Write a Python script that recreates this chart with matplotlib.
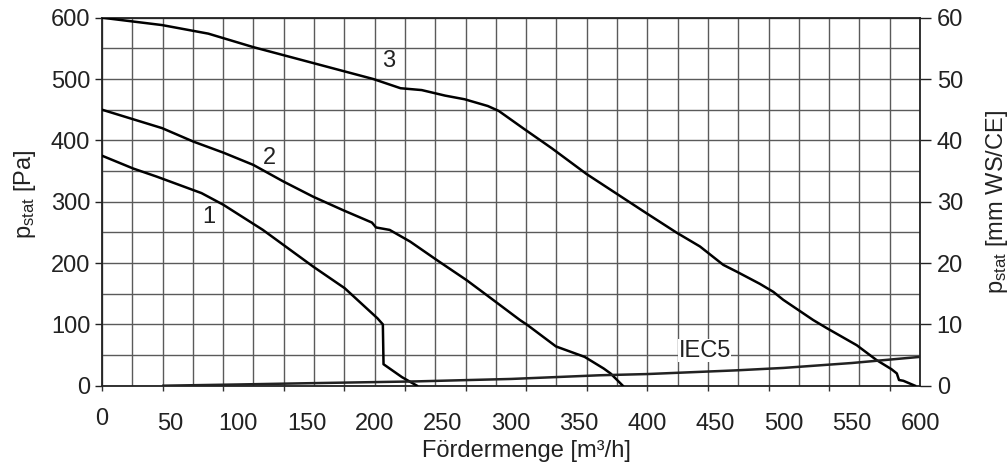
import matplotlib
matplotlib.use("Agg")
from matplotlib import pyplot as plt
import numpy as np

plt.rcParams['font.family'] = ['Liberation Sans', 'DejaVu Sans']
plt.rcParams['mathtext.fontset'] = 'custom'
plt.rcParams['mathtext.rm'] = 'Liberation Sans'
plt.rcParams['mathtext.it'] = 'Liberation Sans'

## curva 1
kurve1_x = [0, 23, 40, 73, 89, 118, 155, 178, 202, 206, 206.5, 220, 231]
kurve1_y = [375, 354, 341, 314, 295, 254, 194, 159, 110, 100, 35, 14, 0]

## curva 2
kurve2_x = [0, 44, 67, 89, 111, 133, 155, 177, 198, 201, 211, 226, 245.5,
            267.5, 282, 306.6, 312, 333, 354, 368, 373, 382]
kurve2_y = [450, 420, 398, 380, 360, 333, 308, 286, 266, 258, 254, 235, 205,
            172, 148, 107, 99, 64, 47, 28, 20, 0]

## curva 3
kurve3_x = [0, 44, 78, 111, 155, 199, 219, 234.5, 251.6, 266, 283, 291, 310,
            330, 355.5, 399.5, 421.5, 438.6, 455.7, 465.5, 482.6, 492.4, 499.7,
            521.7, 531.5, 553.6, 568, 579, 583, 584.6, 587.8, 596.3]
kurve3_y = [600, 588, 574, 552, 526, 500, 485, 482, 473, 467, 456, 448, 418,
            387, 345, 281, 249.5, 227, 197, 186, 166, 153, 140,
            107, 94, 66, 42, 27, 20, 9.3, 8, 0]

## curva IEC5
iec_x = [45, 100, 150, 230, 300, 365, 400, 465, 500, 550, 600]
iec_y = [0, 2, 4, 7, 11, 17, 19, 25, 29, 37, 47]

rotulos = ["1", "2", "3", "IEC5"]
rotulos_pos = [(78, 275), (123, 372), (210.5, 529), (442, 57)]

x_labels = [50, 100, 150, 200, 250, 300, 350, 400, 450, 500, 550, 600]
y_links = [0, 100, 200, 300, 400, 500, 600]
y_rechts = [0, 10, 20, 30, 40, 50, 60]

fs = 17
fig = plt.figure(figsize=(10.08, 4.68), dpi=100)
ax = fig.add_axes([102 / 1008, (468 - 385.7) / 468, 818 / 1008, 368 / 468])
ax.set_xlim(0, 600)
ax.set_ylim(0, 600)

# grade: 27 colunas, linhas a cada 50
grade_x = np.arange(28) * 600 / 27
ax.set_xticks(grade_x[::2])
ax.set_xticks(grade_x[1::2], minor=True)
ax.set_xticklabels([])
ax.tick_params(axis='x', which='major', direction='out', length=3.5, width=1, color='#333333')
ax.tick_params(axis='x', which='minor', length=0)
ax.set_yticks(y_links)
ax.set_yticks(np.arange(50, 600, 100), minor=True)
ax.tick_params(axis='y', which='major', direction='out', length=5, width=1,
               labelsize=fs, pad=3.5, colors='#222222')
ax.tick_params(axis='y', which='minor', length=0)
ax.grid(True, which='both', color='#5a5a5a', linewidth=1.0)
ax.set_axisbelow(True)
for s in ax.spines.values():
  s.set_linewidth(1.3)
  s.set_color('#222222')

ax.plot(kurve1_x, kurve1_y, color='black', linewidth=1.8, zorder=3)
ax.plot(kurve2_x, kurve2_y, color='black', linewidth=1.8, zorder=3)
ax.plot(kurve3_x, kurve3_y, color='black', linewidth=1.8, zorder=3)
ax.plot(iec_x, iec_y, color='#222222', linewidth=1.8, zorder=3)

for rotulo, (px, py) in zip(rotulos, rotulos_pos):
  if rotulo == "IEC5":
    ax.text(px, py, rotulo, fontsize=fs, ha='center', va='center', color='#222222',
            bbox=dict(facecolor='white', edgecolor='none', pad=0.5), zorder=4)
  else:
    ax.text(px, py, rotulo, fontsize=fs, ha='center', va='center', color='#222222', zorder=4)

# rotulos do eixo x
sec = ax.secondary_xaxis('bottom')
sec.set_xticks(x_labels)
sec.set_xticklabels([str(v) for v in x_labels])
sec.tick_params(length=0, pad=20, labelsize=fs, colors='#222222')
sec.spines['bottom'].set_visible(False)
ax.annotate("0", xy=(0, 0), xycoords=('data', 'axes fraction'), xytext=(0, -16),
            textcoords='offset points', ha='center', va='top', fontsize=fs, color='#222222')
ax.text(0.519, -0.178, "Fördermenge [m³/h]", transform=ax.transAxes, ha='center', va='center',
        fontsize=fs, color='#222222')

ax.text(-0.094, 0.52, r"$\mathrm{p_{stat}}$ [Pa]", transform=ax.transAxes, rotation=90,
        ha='center', va='center', fontsize=fs, color='#222222')

ax2 = ax.twinx()
ax2.set_ylim(0, 60)
ax2.set_yticks(y_rechts)
ax2.tick_params(axis='y', direction='out', length=8, width=1, labelsize=fs, pad=4,
                colors='#222222')
for s in ax2.spines.values():
  s.set_visible(False)
ax2.text(1.094, 0.5, r"$\mathrm{p_{stat}}$ [mm WS/CE]", transform=ax.transAxes, rotation=90,
         ha='center', va='center', fontsize=fs, color='#222222')

plt.savefig("out.png", dpi=100)
